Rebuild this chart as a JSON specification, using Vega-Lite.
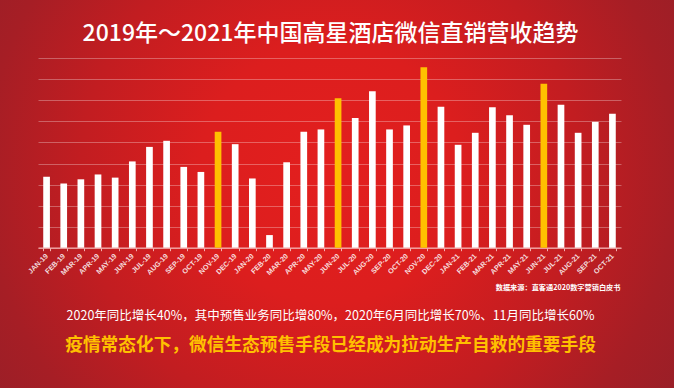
{
  "$schema": "https://vega.github.io/schema/vega-lite/v6.json",
  "autosize": {"type": "none"},
  "padding": 0,
  "width": 674,
  "height": 388,
  "background": "#A01E25",
  "view": {
    "stroke": null,
    "fill": {
      "gradient": "radial",
      "x1": 0.49, "y1": 0.47, "r1": 0,
      "x2": 0.49, "y2": 0.47, "r2": 0.64,
      "stops": [
        {"offset": 0, "color": "#E31F1E"},
        {"offset": 0.3, "color": "#DC1E1E"},
        {"offset": 0.58, "color": "#C21D21"},
        {"offset": 0.8, "color": "#A61E25"},
        {"offset": 1, "color": "#951F28"}
      ]
    }
  },
  "title": {
    "text": "2020年同比增长40%，其中预售业务同比增80%，2020年6月同比增长70%、11月同比增长60%",
    "subtitle": "疫情常态化下，微信生态预售手段已经成为拉动生产自救的重要手段",
    "orient": "bottom",
    "anchor": "middle",
    "frame": "group",
    "offset": -78,
    "dx": -6.5,
    "font": "Noto Sans CJK SC",
    "fontSize": 12.5,
    "fontWeight": "normal",
    "color": "#FFFFFF",
    "subtitleFont": "Noto Sans CJK SC",
    "subtitleFontSize": 17.7,
    "subtitleFontWeight": "bold",
    "subtitleColor": "#FFC000",
    "subtitlePadding": 14
  },
  "data": {
    "values": [
      {"month": "JAN-19", "value": 3.37, "promo": "no"},
      {"month": "FEB-19", "value": 3.05, "promo": "no"},
      {"month": "MAR-19", "value": 3.25, "promo": "no"},
      {"month": "APR-19", "value": 3.48, "promo": "no"},
      {"month": "MAY-19", "value": 3.33, "promo": "no"},
      {"month": "JUN-19", "value": 4.10, "promo": "no"},
      {"month": "JUL-19", "value": 4.79, "promo": "no"},
      {"month": "AUG-19", "value": 5.08, "promo": "no"},
      {"month": "SEP-19", "value": 3.84, "promo": "no"},
      {"month": "OCT-19", "value": 3.60, "promo": "no"},
      {"month": "NOV-19", "value": 5.51, "promo": "yes"},
      {"month": "DEC-19", "value": 4.92, "promo": "no"},
      {"month": "JAN-20", "value": 3.29, "promo": "no"},
      {"month": "FEB-20", "value": 0.60, "promo": "no"},
      {"month": "MAR-20", "value": 4.06, "promo": "no"},
      {"month": "APR-20", "value": 5.51, "promo": "no"},
      {"month": "MAY-20", "value": 5.62, "promo": "no"},
      {"month": "JUN-20", "value": 7.10, "promo": "yes"},
      {"month": "JUL-20", "value": 6.16, "promo": "no"},
      {"month": "AUG-20", "value": 7.44, "promo": "no"},
      {"month": "SEP-20", "value": 5.62, "promo": "no"},
      {"month": "OCT-20", "value": 5.81, "promo": "no"},
      {"month": "NOV-20", "value": 8.57, "promo": "yes"},
      {"month": "DEC-20", "value": 6.70, "promo": "no"},
      {"month": "JAN-21", "value": 4.89, "promo": "no"},
      {"month": "FEB-21", "value": 5.46, "promo": "no"},
      {"month": "MAR-21", "value": 6.67, "promo": "no"},
      {"month": "APR-21", "value": 6.29, "promo": "no"},
      {"month": "MAY-21", "value": 5.84, "promo": "no"},
      {"month": "JUN-21", "value": 7.79, "promo": "yes"},
      {"month": "JUL-21", "value": 6.79, "promo": "no"},
      {"month": "AUG-21", "value": 5.46, "promo": "no"},
      {"month": "SEP-21", "value": 5.98, "promo": "no"},
      {"month": "OCT-21", "value": 6.37, "promo": "no"}
    ]
  },
  "mark": {"type": "bar"},
  "encoding": {
    "x": {
      "field": "month",
      "type": "nominal",
      "sort": null,
      "scale": {"type": "band", "range": [38, 621], "paddingInner": 0.61, "paddingOuter": 0.305},
      "axis": {
        "title": "数据来源：直客通2020数字营销白皮书",
        "titleFont": "Noto Sans CJK SC",
        "titleFontSize": 7.2,
        "titleFontWeight": "bold",
        "titleColor": "#FFFFFF",
        "titleX": 620,
        "titleY": 39.5,
        "titleAlign": "right",
        "titleBaseline": "middle",
        "offset": -140.3,
        "labelAngle": -45,
        "labelAlign": "right",
        "labelBaseline": "middle",
        "labelFont": "Liberation Sans",
        "labelFontSize": 7.2,
        "labelFontWeight": "bold",
        "labelColor": "#FFFFFF",
        "labelOpacity": 0.85,
        "labelPadding": 4,
        "tickBand": "extent",
        "tickSize": 3,
        "tickColor": "#F3B0B0",
        "domainColor": "#F3B0B0",
        "domainWidth": 1.2
      }
    },
    "y": {
      "field": "value",
      "type": "quantitative",
      "scale": {"domain": [0, 9], "range": [247.7, 58.3], "nice": false, "zero": true},
      "axis": {
        "values": [0, 1, 2, 3, 4, 5, 6, 7, 8, 9],
        "grid": true,
        "gridColor": "#FFFFFF",
        "gridOpacity": 0.3,
        "gridWidth": 1,
        "domain": false,
        "ticks": false,
        "labels": false,
        "title": "2019年～2021年中国高星酒店微信直销营收趋势",
        "titleAngle": 0,
        "titleX": 330,
        "titleY": 33,
        "titleAlign": "center",
        "titleBaseline": "middle",
        "titleFont": "Noto Sans CJK SC",
        "titleFontSize": 23,
        "titleFontWeight": 500,
        "titleColor": "#FFFFFF"
      }
    },
    "color": {
      "field": "promo",
      "type": "nominal",
      "scale": {"domain": ["no", "yes"], "range": ["#FFFFFF", "#FFC000"]},
      "legend": null
    }
  }
}
